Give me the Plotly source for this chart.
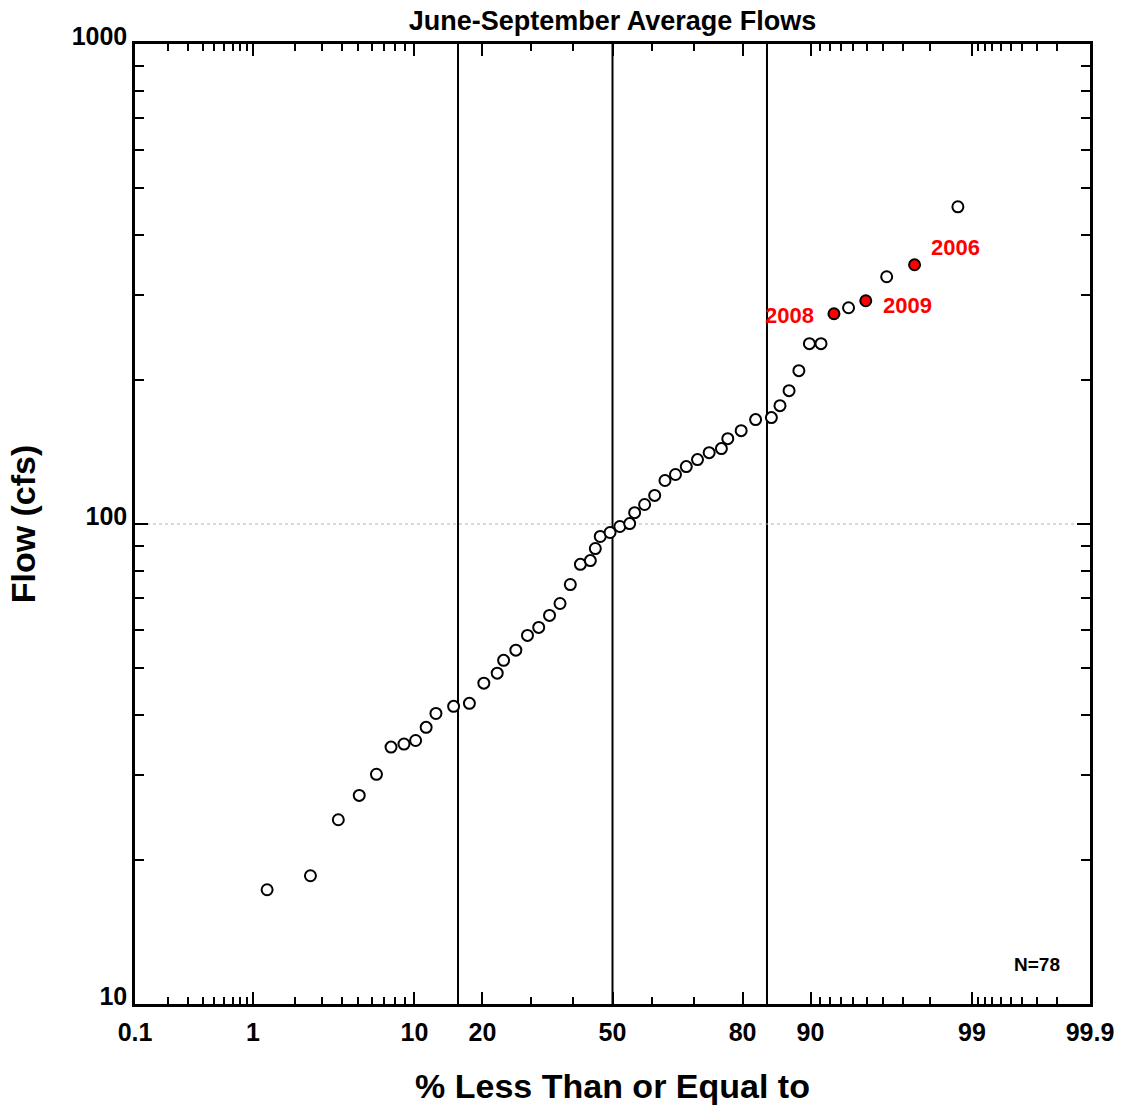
import math
from statistics import NormalDist
import plotly.graph_objects as go

# ---------------- data ----------------
pct = [1.27, 2.53, 3.80, 5.06, 6.33, 7.59, 8.86, 10.13, 11.39, 12.66,
       15.19, 17.72, 20.25, 22.78, 24.05, 26.58, 29.11, 31.65, 34.18, 36.71,
       39.24, 41.77, 44.30, 45.57, 46.84, 49.37, 51.90, 54.43, 55.70, 58.23,
       60.76, 63.29, 65.82, 68.35, 70.89, 73.42, 75.95, 77.22, 79.75, 82.28,
       84.81, 86.08, 87.34, 88.61, 89.87, 91.14, 93.67, 96.20, 98.73]
flow = [17.3, 18.5, 24.2, 27.2, 30.1, 34.3, 34.8, 35.4, 37.7, 40.3,
        41.7, 42.3, 46.6, 48.9, 52.0, 54.6, 58.6, 60.9, 64.5, 68.3,
        74.8, 82.4, 83.9, 88.9, 94.2, 96.0, 98.8, 100.2, 105.6, 109.8,
        114.7, 123.2, 126.8, 131.7, 136.2, 140.8, 143.6, 150.6, 156.5, 165.0,
        166.6, 176.4, 189.6, 208.7, 237.5, 237.5, 282.2, 327.4, 458.0]

hl_pct = [92.41, 94.94, 97.47]
hl_flow = [274.2, 291.8, 346.8]
hl_year = ["2008", "2009", "2006"]

sigma_pct = [15.87, 50.0, 84.13]

x_major = [0.1, 1, 10, 20, 50, 80, 90, 99, 99.9]
x_major_text = ["0.1", "1", "10", "20", "50", "80", "90", "99", "99.9"]
x_minor = [0.2, 0.3, 0.4, 0.5, 0.6, 0.7, 0.8, 0.9,
           2, 3, 4, 5, 6, 7, 8, 9, 30, 40, 60, 70,
           91, 92, 93, 94, 95, 96, 97, 98,
           99.1, 99.2, 99.3, 99.4, 99.5, 99.6, 99.7, 99.8]
y_major = [10, 100, 1000]
y_minor = [20, 30, 40, 50, 60, 70, 80, 90, 200, 300, 400, 500, 600, 700, 800, 900]

n_label = "N=78"

# ---------------- probability scale ----------------
nd = NormalDist()


def z(p):
    return nd.inv_cdf(p / 100.0)


FONT = "Liberation Sans, Arial, sans-serif"
xr = [z(0.1), z(99.9)]
yr = [1, 3]

fig = go.Figure()

fig.add_trace(go.Scatter(
    x=[z(p) for p in pct], y=flow, mode="markers",
    marker=dict(symbol="circle", size=11, color="white",
                line=dict(color="black", width=2)),
    hoverinfo="skip", showlegend=False))

fig.add_trace(go.Scatter(
    x=[z(p) for p in hl_pct], y=hl_flow, mode="markers",
    marker=dict(symbol="circle", size=11, color="#ff0000",
                line=dict(color="black", width=2)),
    hoverinfo="skip", showlegend=False))

# helper trace so the mirrored (top/right) axes are drawn
fig.add_trace(go.Scatter(x=[None], y=[None], xaxis="x2", yaxis="y2",
                         mode="markers", showlegend=False, hoverinfo="skip"))

for p in sigma_pct:
    fig.add_vline(x=z(p), line=dict(color="black", width=2), layer="below")

fig.add_hline(y=100, line=dict(color="#b0b0b0", width=1, dash="dot"), layer="below")

# year labels
offsets = {"2008": ("right", -18, -2), "2009": ("left", 15, -5), "2006": ("left", 14, 17)}
for p, f, yr_ in zip(hl_pct, hl_flow, hl_year):
    anc, dx, dy = offsets[yr_]
    fig.add_annotation(x=z(p), y=math.log10(f), xref="x", yref="y", text=yr_,
                       showarrow=False, xanchor=anc, yanchor="middle",
                       xshift=dx, yshift=dy,
                       font=dict(family=FONT, size=22, color="#ff0000", weight="bold"))

fig.add_annotation(x=0.9445, y=0.0416, xref="paper", yref="paper", text=n_label,
                   showarrow=False, xanchor="center", yanchor="middle",
                   font=dict(family=FONT, size=19, color="black", weight="bold"))

tickfont = dict(family=FONT, size=25, color="black", weight="bold")

common_x = dict(range=xr, tickmode="array", tickvals=[z(v) for v in x_major],
                ticktext=x_major_text, ticks="inside", ticklen=12, tickwidth=2,
                tickcolor="black", showgrid=False, zeroline=False,
                showline=True, linecolor="black", linewidth=2.5,
                minor=dict(tickmode="array", tickvals=[z(v) for v in x_minor],
                           ticks="inside", ticklen=7, tickwidth=2, tickcolor="black",
                           showgrid=False))
common_y = dict(type="log", range=yr, tickmode="array", tickvals=y_major,
                ticktext=[str(v) for v in y_major], ticks="inside", ticklen=13,
                tickwidth=2, tickcolor="black", showgrid=False, zeroline=False,
                showline=True, linecolor="black", linewidth=2.5,
                minor=dict(tickmode="array", tickvals=y_minor, ticks="inside",
                           ticklen=9, tickwidth=2, tickcolor="black", showgrid=False))

fig.update_layout(
    width=1126, height=1112,
    margin=dict(l=135, r=33, t=44, b=107),
    plot_bgcolor="white", paper_bgcolor="white",
    showlegend=False,
    title=dict(text="June-September Average Flows", x=0.5, xref="paper",
               xanchor="center", y=1 - 21 / 1112, yref="container", yanchor="middle",
               font=dict(family=FONT, size=27, color="black", weight="bold")),
    xaxis=dict(**common_x, tickfont=tickfont, ticklabelstandoff=4,
               title=dict(text="% Less Than or Equal to", standoff=30,
                          font=dict(family=FONT, size=34, color="black", weight="bold"))),
    yaxis=dict(**common_y, tickfont=tickfont, ticklabelshift=-8,
               title=dict(text="Flow (cfs)", standoff=26,
                          font=dict(family=FONT, size=34, color="black", weight="bold"))),
    xaxis2=dict(**common_x, overlaying="x", side="top", anchor="y2",
                showticklabels=False),
    yaxis2=dict(**common_y, overlaying="y", side="right", anchor="x2",
                showticklabels=False),
)

fig.write_html("out.html")
